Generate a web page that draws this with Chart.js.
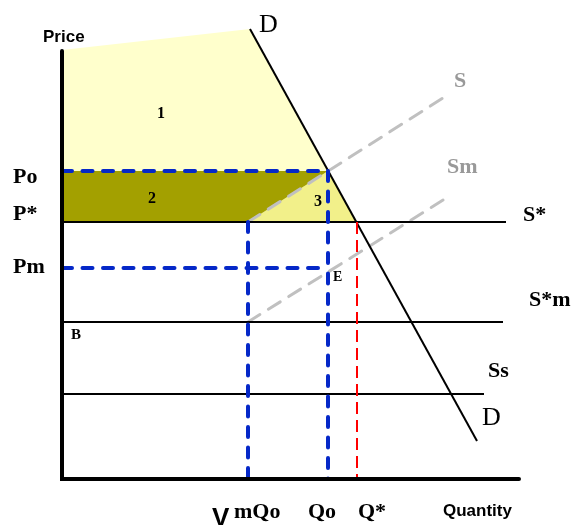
<!DOCTYPE html>
<html>
<head>
<meta charset="utf-8">
<script src="https://cdn.jsdelivr.net/npm/chart.js@4/dist/chart.umd.min.js"></script>
<style>
  body { margin: 0; background: #fff; }
  canvas { display: block; }
</style>
</head>
<body>
<canvas id="marketChart" width="574" height="525"></canvas>
<script>
// quantities on the x axis: mQo, Qo, Q*
const quantityLabels = ['mQo', 'Qo', 'Q*'];
const quantities = [186, 266, 295];
// prices on the y axis: Po, P*, Pm
const priceLabels = ['Po', 'P*', 'Pm'];
const prices = [308, 257, 211];

// demand curve D (top, bottom)
const demandX = [188, 415];
const demandY = [450, 38];
// upward supply curves S and Sm
const supplySX = [186, 381];
const supplySY = [257, 381];
const supplySmX = [186, 386];
const supplySmY = [157, 282];
// flat supply lines S*, S*m, Ss
const flatLabels = ['S*', 'S*m', 'Ss'];
const flatLevels = [257, 157, 85];
const flatEnds = [444, 441, 422];

// axis extent
const axisX = 457;
const axisY = 428;
const topLeftY = 429;

const BLUE = '#0528c8';

function pts(xs, ys) {
    return xs.map((x, i) => ({ x: x, y: ys[i] }));
}

function lineSet(data, color, width, dash, order) {
    return {
        data: data,
        borderColor: color,
        borderWidth: width,
        borderDash: dash || [],
        borderCapStyle: dash && dash.length ? 'round' : 'butt',
        pointRadius: 0,
        fill: false,
        tension: 0,
        order: order
    };
}

function areaSet(data, color) {
    return {
        data: data,
        backgroundColor: color,
        borderWidth: 0,
        pointRadius: 0,
        fill: 'shape',
        tension: 0,
        order: 20
    };
}

const qm = quantities[0], qo = quantities[1], qs = quantities[2];
const po = prices[0], ps = prices[1], pm = prices[2];

const datasets = [
    // shaded areas
    areaSet([{x: 0, y: topLeftY}, {x: demandX[0], y: demandY[0]}, {x: qo, y: po}, {x: 0, y: po}], '#ffffcc'),
    areaSet([{x: 0, y: po}, {x: qo, y: po}, {x: qm, y: ps}, {x: 0, y: ps}], '#a3a000'),
    areaSet([{x: qm, y: ps}, {x: qo, y: po}, {x: qs, y: ps}], '#f2f08a'),
    // flat supply lines
    ...flatLevels.map((lv, i) => lineSet([{x: 0, y: lv}, {x: flatEnds[i], y: lv}], '#000', 2, null, 8)),
    // demand
    lineSet(pts(demandX, demandY), '#000', 2, null, 7),
    // supply S and Sm
    lineSet(pts(supplySX, supplySY), '#c0c0c0', 3, [14, 10], 9),
    lineSet(pts(supplySmX, supplySmY), '#c0c0c0', 3, [14, 10], 9),
    // blue price / quantity guides
    lineSet([{x: 0, y: po}, {x: qo, y: po}], BLUE, 4, [10, 10.5], 3),
    lineSet([{x: 0, y: pm}, {x: qo, y: pm}], BLUE, 4, [10, 10.5], 3),
    lineSet([{x: qm, y: ps}, {x: qm, y: 0}], BLUE, 4, [10, 10.5], 3),
    lineSet([{x: qo, y: po}, {x: qo, y: 0}], BLUE, 4, [10, 10.5], 3),
    // red Q* guide
    Object.assign(lineSet([{x: qs, y: ps}, {x: qs, y: 0}], '#ff0000', 2, [12, 6], 4), { borderCapStyle: 'butt' }),
    // axes
    Object.assign(lineSet([{x: 0, y: axisY}, {x: 0, y: 0}, {x: axisX, y: 0}], '#000', 4, null, 1), { borderCapStyle: 'round' })
];

const SERIF = '"Liberation Serif", "Times New Roman", serif';
const SANS = '"Liberation Sans", Arial, sans-serif';

// text annotations (left edge, baseline) in chart units
const notes = [
    { t: 'Price', x: -19, y: 437, f: 'bold 17px ' + SANS, c: '#000' },
    { t: priceLabels[0], x: -49, y: 296, f: 'bold 22px ' + SERIF, c: '#000' },
    { t: priceLabels[1], x: -49, y: 259, f: 'bold 22px ' + SERIF, c: '#000' },
    { t: priceLabels[2], x: -49, y: 206, f: 'bold 22px ' + SERIF, c: '#000' },
    { t: '1', x: 95, y: 361, f: 'bold 16px ' + SERIF, c: '#000' },
    { t: '2', x: 86, y: 276, f: 'bold 16px ' + SERIF, c: '#000' },
    { t: '3', x: 252, y: 273, f: 'bold 16px ' + SERIF, c: '#000' },
    { t: 'B', x: 9, y: 140, f: 'bold 15px ' + SERIF, c: '#000' },
    { t: 'E', x: 271, y: 198, f: 'bold 14px ' + SERIF, c: '#000' },
    { t: 'D', x: 197, y: 447, f: '26px ' + SERIF, c: '#000' },
    { t: 'D', x: 420, y: 54, f: '26px ' + SERIF, c: '#000' },
    { t: 'S', x: 392, y: 392, f: 'bold 22px ' + SERIF, c: '#999' },
    { t: 'Sm', x: 385, y: 306, f: 'bold 22px ' + SERIF, c: '#999' },
    { t: flatLabels[0], x: 461, y: 258, f: 'bold 22px ' + SERIF, c: '#000' },
    { t: flatLabels[1], x: 467, y: 173, f: 'bold 22px ' + SERIF, c: '#000' },
    { t: flatLabels[2], x: 426, y: 102, f: 'bold 22px ' + SERIF, c: '#000' },
    { t: 'V', x: 150, y: -47, f: 'bold 26px ' + SANS, c: '#000' },
    { t: quantityLabels[0], x: 172, y: -39, f: 'bold 22px ' + SERIF, c: '#000' },
    { t: quantityLabels[1], x: 246, y: -39, f: 'bold 22px ' + SERIF, c: '#000' },
    { t: quantityLabels[2], x: 296, y: -39, f: 'bold 22px ' + SERIF, c: '#000' },
    { t: 'Quantity', x: 381, y: -37, f: 'bold 17px ' + SANS, c: '#000' }
];

const textPlugin = {
    id: 'diagramText',
    afterDraw(chart) {
        const ctx = chart.ctx;
        const xs = chart.scales.x, ys = chart.scales.y;
        ctx.save();
        ctx.textAlign = 'left';
        ctx.textBaseline = 'alphabetic';
        notes.forEach(n => {
            ctx.font = n.f;
            ctx.fillStyle = n.c;
            ctx.fillText(n.t, xs.getPixelForValue(n.x), ys.getPixelForValue(n.y));
        });
        ctx.restore();
    }
};

new Chart(document.getElementById('marketChart'), {
    type: 'line',
    data: { datasets: datasets },
    options: {
        responsive: false,
        animation: false,
        layout: { padding: 0 },
        plugins: {
            legend: { display: false },
            tooltip: { enabled: false }
        },
        scales: {
            x: { type: 'linear', min: -62, max: 512, display: false },
            y: { type: 'linear', min: -46, max: 479, display: false }
        }
    },
    plugins: [textPlugin]
});
</script>
</body>
</html>
